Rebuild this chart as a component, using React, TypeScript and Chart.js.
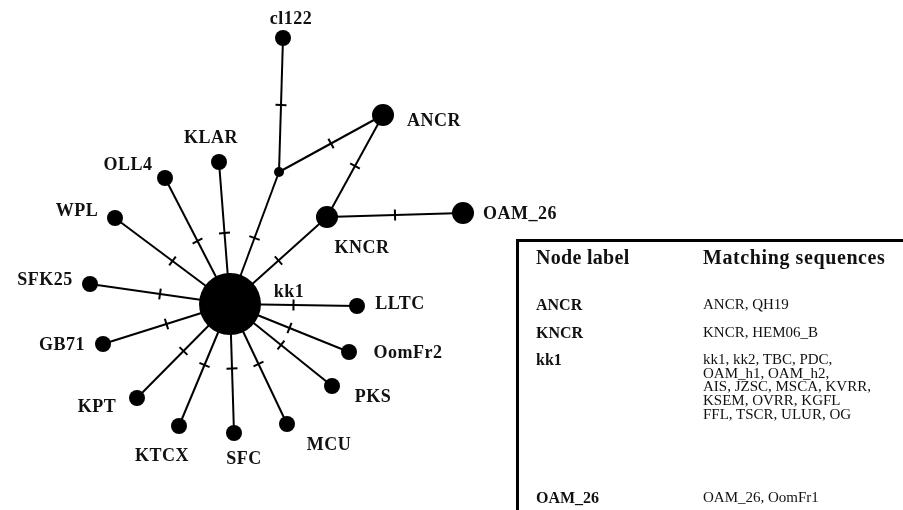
import React, { useEffect, useRef } from "react";
import { Chart, registerables } from "chart.js";

Chart.register(...registerables);

// Node names, layout coordinates and radii
const nodeNames = ["kk1", "hub", "cl122", "ANCR", "KNCR", "OAM_26", "KLAR", "OLL4", "WPL", "SFK25", "GB71", "KPT", "KTCX", "SFC", "MCU", "PKS", "OomFr2", "LLTC"];
const nodeX = [230, 279, 283, 383, 327, 463, 219, 165, 115, 90, 103, 137, 179, 234, 287, 332, 349, 357];
const nodeY = [304, 172, 38, 115, 217, 213, 162, 178, 218, 284, 344, 398, 426, 433, 424, 386, 352, 306];
const nodeRadius = [31, 5, 8, 11, 11, 11, 8, 8, 8, 8, 8, 8, 8, 8, 8, 8, 8, 8];

// Edges (each carries one mutation tick)
const edgeFrom = ["kk1", "kk1", "kk1", "kk1", "kk1", "kk1", "kk1", "kk1", "kk1", "kk1", "kk1", "kk1", "kk1", "kk1", "hub", "hub", "KNCR", "KNCR"];
const edgeTo = ["hub", "KNCR", "KLAR", "OLL4", "WPL", "SFK25", "GB71", "KPT", "KTCX", "SFC", "MCU", "PKS", "OomFr2", "LLTC", "cl122", "ANCR", "ANCR", "OAM_26"];

// Node labels and their anchor positions
const labelText = ["cl122", "ANCR", "KLAR", "OLL4", "WPL", "KNCR", "OAM_26", "SFK25", "GB71", "KPT", "KTCX", "SFC", "MCU", "PKS", "OomFr2", "LLTC", "kk1"];
const labelX = [291, 434, 211, 128, 77, 362, 520, 45, 62, 97, 162, 244, 329, 373, 408, 400, 289];
const labelY = [18, 120, 137, 164, 210, 247, 213, 279, 344, 406, 455, 458, 444, 396, 352, 303, 291];

// Table contents
const tableHeaders = ["Node label", "Matching sequences"];
const tableLabels = ["ANCR", "KNCR", "kk1", "OAM_26"];
const tableSequences = [
  ["ANCR, QH19"],
  ["KNCR, HEM06_B"],
  ["kk1, kk2, TBC, PDC,", "OAM_h1, OAM_h2,", "AIS, JZSC, MSCA, KVRR,", "KSEM, OVRR, KGFL", "FFL, TSCR, ULUR, OG"],
  ["OAM_26, OomFr1"],
];
const tableRowTops = [294, 322, 349, 487];

const idx = (n: string) => nodeNames.indexOf(n);

export default function App() {
  const ref = useRef<HTMLCanvasElement | null>(null);

  useEffect(() => {
    if (!ref.current) return;

    const edgeDatasets = edgeFrom.map((f, i) => {
      const a = idx(f);
      const b = idx(edgeTo[i]);
      return {
        type: "scatter" as const,
        data: [
          { x: nodeX[a], y: nodeY[a] },
          { x: nodeX[b], y: nodeY[b] },
        ],
        showLine: true,
        borderColor: "#000",
        borderWidth: 2,
        pointRadius: 0,
        order: 2,
        clip: false as any,
      };
    });

    const tickPlugin = {
      id: "ticksAndLabels",
      afterDatasetsDraw(chart: any) {
        const ctx = chart.ctx;
        const xs = chart.scales.x;
        const ys = chart.scales.y;
        ctx.save();
        ctx.strokeStyle = "#000";
        ctx.lineWidth = 2;
        edgeFrom.forEach((f, i) => {
          const a = idx(f);
          const b = idx(edgeTo[i]);
          const x1 = xs.getPixelForValue(nodeX[a]);
          const y1 = ys.getPixelForValue(nodeY[a]);
          const x2 = xs.getPixelForValue(nodeX[b]);
          const y2 = ys.getPixelForValue(nodeY[b]);
          const mx = (x1 + x2) / 2;
          const my = (y1 + y2) / 2;
          const len = Math.hypot(x2 - x1, y2 - y1) || 1;
          const px = -(y2 - y1) / len;
          const py = (x2 - x1) / len;
          const h = 5.5;
          ctx.beginPath();
          ctx.moveTo(mx - px * h, my - py * h);
          ctx.lineTo(mx + px * h, my + py * h);
          ctx.stroke();
        });
        ctx.fillStyle = "#111";
        ctx.font = 'bold 18px "Liberation Serif", "Times New Roman", serif';
        (ctx as any).letterSpacing = "0.5px";
        ctx.textAlign = "center";
        ctx.textBaseline = "alphabetic";
        labelText.forEach((t, i) => {
          ctx.fillText(t, xs.getPixelForValue(labelX[i]), ys.getPixelForValue(labelY[i]) + 6);
        });
        ctx.restore();
      },
    };

    const chart = new Chart(ref.current, {
      type: "scatter",
      data: {
        datasets: [
          {
            data: nodeNames.map((_, i) => ({ x: nodeX[i], y: nodeY[i] })),
            pointRadius: nodeRadius,
            pointHoverRadius: nodeRadius,
            pointBackgroundColor: "#000",
            pointBorderColor: "#000",
            pointBorderWidth: 0,
            order: 0,
            clip: false as any,
          } as any,
          ...edgeDatasets,
        ],
      },
      options: {
        animation: false,
        responsive: false,
        layout: { padding: 0, autoPadding: false },
        plugins: { legend: { display: false }, tooltip: { enabled: false } },
        scales: {
          x: { type: "linear", min: 0, max: 903, display: false },
          y: { type: "linear", min: 0, max: 510, reverse: true, display: false },
        },
      },
      plugins: [tickPlugin],
    });
    return () => chart.destroy();
  }, []);

  const serif = '"Liberation Serif", "Times New Roman", serif';

  return (
    <div style={{ position: "absolute", left: 0, top: 0, width: 903, height: 510, background: "#fff", overflow: "hidden" }}>
      <canvas ref={ref} width={903} height={510} style={{ position: "absolute", left: 0, top: 0, width: 903, height: 510 }} />
      <div
        style={{
          position: "absolute",
          left: 516,
          top: 239,
          width: 400,
          height: 300,
          borderLeft: "3px solid #000",
          borderTop: "3px solid #000",
          fontFamily: serif,
          color: "#111",
        }}
      >
        <div style={{ position: "absolute", left: 17, top: 3, fontWeight: "bold", fontSize: 20, letterSpacing: "0.3px", lineHeight: "24px", whiteSpace: "nowrap" }}>
          {tableHeaders[0]}
        </div>
        <div style={{ position: "absolute", left: 184, top: 3, fontWeight: "bold", fontSize: 20, letterSpacing: "0.6px", lineHeight: "24px", whiteSpace: "nowrap" }}>
          {tableHeaders[1]}
        </div>
        {tableLabels.map((lab, i) => (
          <React.Fragment key={lab}>
            <div style={{ position: "absolute", left: 17, top: tableRowTops[i] - 239 - 2, fontWeight: "bold", fontSize: 16, lineHeight: "20px", whiteSpace: "nowrap" }}>
              {lab}
            </div>
            <div style={{ position: "absolute", left: 184, top: tableRowTops[i] - 239 - 2, fontSize: 15, lineHeight: "13.7px", paddingTop: 3, whiteSpace: "nowrap" }}>
              {tableSequences[i].map((s, j) => (
                <div key={j}>{s}</div>
              ))}
            </div>
          </React.Fragment>
        ))}
      </div>
    </div>
  );
}
